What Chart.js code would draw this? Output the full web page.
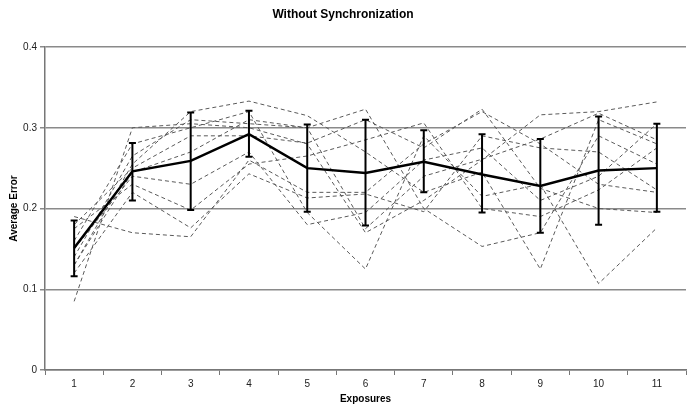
<!DOCTYPE html>
<html>
<head>
<meta charset="utf-8">
<script src="https://cdn.jsdelivr.net/npm/chart.js@4.4.1/dist/chart.umd.min.js"></script>
<style>
  html, body { margin: 0; padding: 0; background: #fff; }
  #wrap { width: 690px; height: 409px; }
</style>
</head>
<body>
<div id="wrap"><canvas id="c" width="690" height="409"></canvas></div>
<script>
const exposures = ['1','2','3','4','5','6','7','8','9','10','11'];
const yTicks = [0, 0.1, 0.2, 0.3, 0.4];

const meanError = [0.151, 0.246, 0.259, 0.292, 0.250, 0.244, 0.258, 0.242, 0.228, 0.247, 0.250];
const errHigh   = [0.185, 0.281, 0.319, 0.321, 0.304, 0.310, 0.297, 0.292, 0.286, 0.314, 0.305];
const errLow    = [0.116, 0.210, 0.198, 0.264, 0.196, 0.179, 0.220, 0.195, 0.170, 0.180, 0.196];

const subject1  = [0.190, 0.170, 0.165, 0.260, 0.220, 0.220, 0.280, 0.320, 0.280, 0.230, 0.220];
const subject2  = [0.085, 0.300, 0.305, 0.300, 0.280, 0.170, 0.210, 0.260, 0.316, 0.320, 0.332];
const subject3  = [0.130, 0.255, 0.320, 0.333, 0.315, 0.270, 0.220, 0.245, 0.125, 0.310, 0.280];
const subject4  = [0.160, 0.280, 0.300, 0.320, 0.195, 0.125, 0.290, 0.215, 0.230, 0.107, 0.176];
const subject5  = [0.140, 0.265, 0.310, 0.305, 0.300, 0.323, 0.200, 0.153, 0.170, 0.290, 0.255];
const subject6  = [0.150, 0.240, 0.230, 0.270, 0.180, 0.195, 0.260, 0.275, 0.210, 0.240, 0.305];
const subject7  = [0.175, 0.230, 0.198, 0.255, 0.265, 0.285, 0.306, 0.200, 0.190, 0.223, 0.275];
const subject8  = [0.120, 0.220, 0.176, 0.243, 0.213, 0.218, 0.196, 0.290, 0.275, 0.270, 0.223];
const subject9  = [0.180, 0.250, 0.290, 0.290, 0.281, 0.310, 0.275, 0.323, 0.225, 0.200, 0.195];
const subject10 = [0.130, 0.245, 0.270, 0.310, 0.300, 0.175, 0.240, 0.261, 0.286, 0.318, 0.285];

const subjects = [subject1, subject2, subject3, subject4, subject5, subject6, subject7, subject8, subject9, subject10];

const FONT = "'Liberation Sans', Arial, sans-serif";

const datasets = [{
  label: 'Mean',
  data: meanError,
  borderColor: '#000',
  borderWidth: 2.5,
  pointRadius: 0,
  tension: 0,
  fill: false
}];
subjects.forEach((s, i) => {
  datasets.push({
    label: 'Subject ' + (i + 1),
    data: s,
    borderColor: '#5a5a5a',
    borderWidth: 1,
    borderDash: [4, 3],
    pointRadius: 0,
    tension: 0,
    fill: false
  });
});

const errorBars = {
  id: 'errorBars',
  afterDatasetsDraw(chart) {
    const ctx = chart.ctx;
    const x = chart.scales.x, y = chart.scales.y;
    ctx.save();
    ctx.strokeStyle = '#000';
    ctx.lineWidth = 2;
    for (let i = 0; i < exposures.length; i++) {
      const px = x.getPixelForValue(i);
      const yh = y.getPixelForValue(errHigh[i]);
      const yl = y.getPixelForValue(errLow[i]);
      ctx.beginPath();
      ctx.moveTo(px, yh); ctx.lineTo(px, yl);
      ctx.moveTo(px - 3.5, yh); ctx.lineTo(px + 3.5, yh);
      ctx.moveTo(px - 3.5, yl); ctx.lineTo(px + 3.5, yl);
      ctx.stroke();
    }
    ctx.restore();
  }
};

new Chart(document.getElementById('c'), {
  type: 'line',
  data: { labels: exposures, datasets },
  plugins: [errorBars],
  options: {
    responsive: false,
    animation: false,
    devicePixelRatio: 1,
    layout: { padding: { left: 0, right: 4, top: 0, bottom: 0 } },
    plugins: {
      legend: { display: false },
      tooltip: { enabled: false },
      title: {
        display: true,
        text: 'Without Synchronization',
        color: '#000',
        font: { family: FONT, size: 12, weight: 'bold' },
        padding: { top: 7, bottom: 25.6 }
      }
    },
    scales: {
      x: {
        offset: true,
        afterFit(scale) { scale.height = 39; },
        grid: {
          offset: true,
          drawOnChartArea: false,
          drawTicks: true,
          tickLength: 5,
          color: '#777',
          lineWidth: 1
        },
        border: { color: '#777', width: 1.5 },
        ticks: {
          color: '#222',
          padding: 3,
          font: { family: FONT, size: 10 }
        },
        title: {
          display: true,
          text: 'Exposures',
          color: '#000',
          font: { family: FONT, size: 10, weight: 'bold' },
          padding: { top: 2, bottom: 4 }
        }
      },
      y: {
        min: 0,
        max: 0.4,
        afterFit(scale) { scale.width = 45; },
        afterBuildTicks(scale) { scale.ticks = yTicks.map(v => ({ value: v })); },
        grid: {
          color: '#8a8a8a',
          lineWidth: 1.5,
          drawTicks: true,
          tickLength: 5
        },
        border: { color: '#777', width: 1.5 },
        ticks: {
          color: '#222',
          padding: 3,
          font: { family: FONT, size: 10 },
          callback: v => String(Math.round(v * 10) / 10)
        },
        title: {
          display: true,
          text: 'Average Error',
          color: '#000',
          font: { family: FONT, size: 10, weight: 'bold' },
          padding: { top: 8, bottom: 2 }
        }
      }
    }
  }
});
</script>
</body>
</html>
